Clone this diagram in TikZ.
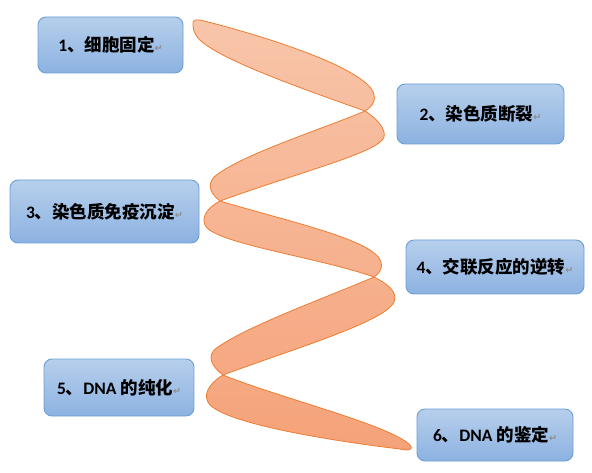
\documentclass[tikz,border=0pt]{standalone}
\usepackage{fontspec}
\setmainfont{Carlito}
\newfontfamily\cjk{Noto Sans CJK SC}
\newfontfamily\dvs{DejaVu Sans}
\definecolor{boxtop}{HTML}{B7CFEC}
\definecolor{boxbot}{HTML}{8CB2E1}
\definecolor{boxline}{HTML}{6A9FD6}
\definecolor{ribtop}{HTML}{F8C5AA}
\definecolor{ribbot}{HTML}{F5A279}
\definecolor{ribline}{HTML}{ED7D31}
\newcommand\retmark{{\dvs\fontsize{9.5}{9.5}\selectfont\color{gray!90}↵}}
\tikzset{
  stepbox/.style={draw=boxline, line width=0.9pt, rounded corners=8pt,
    top color=boxtop, bottom color=boxbot, inner sep=0pt,
    font=\fontsize{17.5}{19}\selectfont\bfseries},
  ribbon/.style={draw=ribline, line width=0.8pt, top color=ribtop, bottom color=ribbot}
}
\begin{document}
\begin{tikzpicture}[x=1pt,y=-1pt]
\useasboundingbox (0,0) rectangle (592,473);
% ribbon
\shadedraw[ribbon]
 (193,25) .. controls (192,17) and (200,20) .. (212,23)
   .. controls (270,38) and (370,70) .. (374,95)
   .. controls (376,103) and (370,108) .. (365,111)
   .. controls (300,88) and (215,58) .. (198,38)
   .. controls (194,33) and (193,29) .. (193,25) -- cycle
 (365,111) .. controls (378,119) and (386,130) .. (384,137)
   .. controls (380,152) and (300,172) .. (220,201)
   .. controls (212,195) and (206,186) .. (214,177)
   .. controls (240,155) and (320,130) .. (365,111) -- cycle
 (220,201) .. controls (290,222) and (375,240) .. (381,262)
   .. controls (383,270) and (378,274) .. (374,277)
   .. controls (320,258) and (225,245) .. (207,228)
   .. controls (200,220) and (205,209) .. (220,201) -- cycle
 (374,277) .. controls (388,284) and (398,292) .. (394,302)
   .. controls (385,322) and (290,350) .. (223,375)
   .. controls (212,367) and (205,355) .. (218,347)
   .. controls (250,325) and (320,300) .. (374,277) -- cycle
 (223,375) .. controls (280,398) and (390,425) .. (410,445)
   .. controls (414,450) and (408,451) .. (400,449)
   .. controls (340,442) and (230,425) .. (210,405)
   .. controls (202,396) and (208,384) .. (223,375) -- cycle;
% boxes
\node[stepbox, minimum width=145pt, minimum height=56pt] (b1) at (110.5,45) {1{\cjk 、细胞固定}\retmark};
\node[stepbox, minimum width=167pt, minimum height=60pt] (b2) at (480.5,114) {2{\cjk 、染色质断裂}\retmark};
\node[stepbox, minimum width=189pt, minimum height=63pt] (b3) at (104.5,211.5) {3{\cjk 、染色质免疫沉淀}\retmark};
\node[stepbox, minimum width=178pt, minimum height=54pt] (b4) at (495,267) {4{\cjk 、交联反应的逆转}\retmark};
\node[stepbox, minimum width=150pt, minimum height=57pt] (b5) at (119,387.5) {5{\cjk 、}DNA {\cjk 的纯化}\retmark};
\node[stepbox, minimum width=156pt, minimum height=52pt] (b6) at (495,435) {6{\cjk 、}DNA {\cjk 的鉴定}\retmark};
\end{tikzpicture}
\end{document}
